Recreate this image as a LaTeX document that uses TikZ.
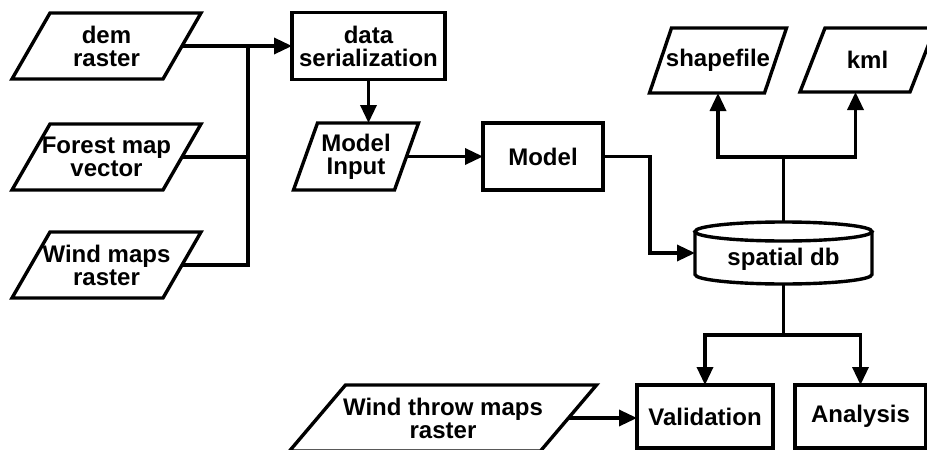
\documentclass[tikz,border=0pt]{standalone}
\usepackage{fontspec}
\setmainfont{Liberation Sans}
\usetikzlibrary{arrows.meta}
\newcommand\drawpara[2]{\draw[ln] ([xshift=#2]#1.north west) -- ([xshift=#2]#1.north east) -- ([xshift=-#2]#1.south east) -- ([xshift=-#2]#1.south west) -- cycle;}
\begin{document}
\begin{tikzpicture}[x=1pt,y=-1pt,
  every node/.style={font=\bfseries\fontsize{24}{23}\selectfont, inner sep=0pt, outer sep=0pt, align=center},
  ln/.style={line width=3.4pt},
  arr/.style={ln, -{Triangle[length=18pt,width=16pt]}},
  boxnode/.style={draw, ln},
  paranode/.style={},
  dbnode/.style={}]
\useasboundingbox (0,0) rectangle (927,450);
\clip (0,0) rectangle (927,450);

% input parallelograms
\node[paranode, minimum width=151pt, minimum height=66pt] (dem) at (106.5,46) {dem\\raster};
\node[paranode, minimum width=151pt, minimum height=66pt] (forest) at (106.5,157) {Forest map\\vector};
\node[paranode, minimum width=151pt, minimum height=66pt] (wind) at (106.5,265) {Wind maps\\raster};
\drawpara{dem}{19pt}
\drawpara{forest}{19pt}
\drawpara{wind}{19pt}

\node[boxnode, minimum width=153pt, minimum height=67pt] (ser) at (368.5,46) {data\\serialization};
\node[paranode, minimum width=101pt, minimum height=67pt] (minput) at (356,156.5) {Model\\Input};
\drawpara{minput}{12pt}
\node[boxnode, minimum width=120pt, minimum height=67pt] (model) at (543,156.5) {Model};

\node[paranode, minimum width=115pt, minimum height=65pt] (shp) at (718,60.5) {shapefile};
\drawpara{shp}{11pt}
\node[paranode, minimum width=110pt, minimum height=64pt] (kml) at (867.5,60) {kml};
\drawpara{kml}{12.5pt}

% spatial db cylinder
\node[dbnode, minimum width=177pt, minimum height=62pt] (db) at (783.5,253) {\raisebox{-12pt}[0pt][0pt]{spatial db}};
\draw[ln] ([yshift=-9.5pt]db.north west) -- ([yshift=9.5pt]db.south west)
  arc[start angle=180, end angle=360, x radius=88.5pt, y radius=9.5pt]
  -- ([yshift=-9.5pt]db.north east);
\draw[ln] ([yshift=-9.5pt]db.north) ellipse [x radius=88.5pt, y radius=9.5pt];

\node[boxnode, minimum width=136pt, minimum height=63pt] (val) at (705,416.5) {Validation};
\node[boxnode, minimum width=131pt, minimum height=63pt] (ana) at (860.5,416.5) {Analysis};
\node[paranode, minimum width=251pt, minimum height=66pt] (wt) at (443,418) {Wind throw maps\\raster};
\drawpara{wt}{28pt}

% connectors
\coordinate (bt) at (248,46);
\draw[arr] (dem.east) -- (ser.west);
\draw[ln] (forest.east) -| (bt);
\draw[ln] (wind.east) -| (bt);
\draw[arr] (ser.south) -- (ser.south |- minput.north);
\draw[arr] (minput.east) -- (model.west);
\draw[arr] (model.east) -| ([xshift=-45pt]db.west) -- (db.west);

\coordinate (tb) at (783.5,157);
\draw[arr] (db.north) -- (tb) -| (shp.south);
\draw[arr] (tb) -| ([xshift=-12pt]kml.south);

\coordinate (bb) at (783.5,335);
\draw[arr] (db.south) -- (bb) -| (val.north);
\draw[arr] (bb) -| (ana.north);

\draw[arr] (wt.east) -- (wt.east -| val.west);
\end{tikzpicture}
\end{document}
